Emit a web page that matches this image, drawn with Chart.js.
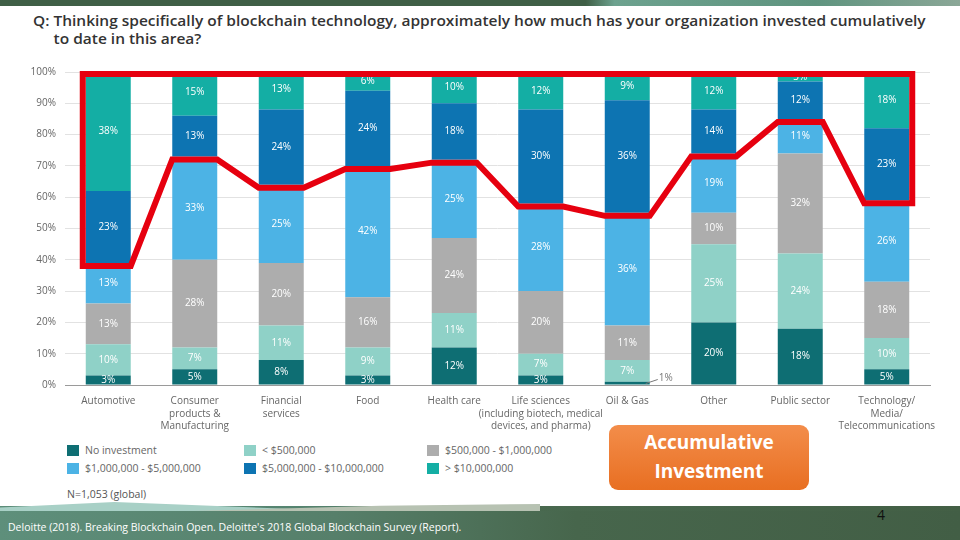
<!DOCTYPE html>
<html>
<head>
<meta charset="utf-8">
<script src="https://cdn.jsdelivr.net/npm/chart.js@4/dist/chart.umd.min.js"></script>
<style>
  html, body { margin: 0; padding: 0; }
  body { width: 960px; height: 540px; position: relative; overflow: hidden; background: #fff; font-family: 'Open Sans', sans-serif; }
  .header { position: absolute; left: 0; top: 0; width: 960px; height: 6px;
    background: linear-gradient(90deg, #3f5f46 0%, #3f5f46 61%, #6da28f 64%, #5f947f 85%, #8ba797 100%); }
  .title { position: absolute; left: 33px; top: 11px; font-size: 15px; font-weight: 600; color: #333; line-height: 18px;
    transform-origin: left top; white-space: nowrap; }
  .title .l2 { padding-left: 20px; }
  #wrap { position: absolute; left: 0; top: 57px; width: 960px; height: 380px; }
  .legend { position: absolute; left: 67px; top: 444px; font-size: 10.5px; color: #666; }
  .legend .item { position: absolute; white-space: nowrap; line-height: 12px; }
  .legend .sw { display: inline-block; width: 12px; height: 11px; vertical-align: -2px; margin-right: 6px; }
  .note { position: absolute; left: 67px; top: 487px; font-size: 10.5px; color: #555; }
  .badge { position: absolute; left: 609px; top: 425px; width: 200px; height: 65px; border-radius: 9px;
    background: linear-gradient(180deg, #f38d4a 0%, #e86f22 100%); color: #fff; font-weight: 700;
    font-size: 19px; line-height: 29px; text-align: center; padding-top: 3px; box-sizing: border-box; }
  .footer { position: absolute; left: 0; top: 506px; width: 960px; height: 34px;
    background: linear-gradient(90deg, #5c8d79 0%, #558470 30%, #49694f 55%, #435f45 100%); }
  .wave1 { position: absolute; left: 0; top: 502px; width: 520px; height: 14px; background: #a8d0c6;
    clip-path: polygon(0 40%, 22% 0, 60% 55%, 100% 75%, 100% 100%, 0 100%); }
  .wave2 { position: absolute; left: 140px; top: 504px; width: 400px; height: 12px; background: #b7c2b2;
    clip-path: polygon(0 70%, 60% 15%, 100% 0, 100% 100%, 0 100%); }
  .band { position: absolute; left: 0; top: 511px; width: 960px; height: 29px;
    background: linear-gradient(90deg, #5e8f7b 0%, #567f6a 35%, #47664c 60%, #425e45 100%); }
  .cite { position: absolute; left: 8px; top: 520px; font-size: 10.5px; color: #fff; white-space: nowrap; }
  .page { position: absolute; left: 877px; top: 505px; font-size: 14px; color: #111; }
</style>
</head>
<body>
<div class="header"></div>
<div class="title" id="title"><div>Q: Thinking specifically of blockchain technology, approximately how much has your organization invested cumulatively</div><div class="l2">to date in this area?</div></div>
<div id="wrap"><canvas id="chart" width="960" height="380"></canvas></div>
<div class="legend" id="legend"></div>
<div class="note">N=1,053 (global)</div>
<div class="badge">Accumulative<br>Investment</div>
<div class="footer"></div>
<div class="wave1"></div>
<div class="wave2"></div>
<div class="band"></div>
<div class="cite">Deloitte (2018). Breaking Blockchain Open. Deloitte's 2018 Global Blockchain Survey (Report).</div>
<div class="page">4</div>
<script>
// Categories (multi-line tick labels)
const categories = [
    ['Automotive'],
    ['Consumer', 'products &', 'Manufacturing'],
    ['Financial', 'services'],
    ['Food'],
    ['Health care'],
    ['Life sciences', '(including biotech, medical', 'devices, and pharma)'],
    ['Oil & Gas'],
    ['Other'],
    ['Public sector'],
    ['Technology/', 'Media/', 'Telecommunications']
];

// Series values (% of respondents), bottom to top
const noInvestment = [3, 5, 8, 3, 12, 3, 1, 20, 18, 5];
const under500k    = [10, 7, 11, 9, 11, 7, 7, 25, 24, 10];
const k500to1m     = [13, 28, 20, 16, 24, 20, 11, 10, 32, 18];
const m1to5        = [13, 33, 25, 42, 25, 28, 36, 19, 11, 26];
const m5to10       = [23, 13, 24, 24, 18, 30, 36, 14, 12, 23];
const over10m      = [38, 15, 13, 6, 10, 12, 9, 12, 3, 18];

const seriesNames = ['No investment', '< $500,000', '$500,000 - $1,000,000',
                     '$1,000,000 - $5,000,000', '$5,000,000 - $10,000,000', '> $10,000,000'];
const seriesData = [noInvestment, under500k, k500to1m, m1to5, m5to10, over10m];
const seriesColors = ['#0e6e73', '#8fd1c7', '#adadad', '#4cb3e5', '#0d74b2', '#14aea4'];

const yTicks = [0, 10, 20, 30, 40, 50, 60, 70, 80, 90, 100];

// fit the title to the width of the original
const title = document.getElementById('title');
const tw = title.firstElementChild.scrollWidth;
title.style.transform = `scaleX(${893 / tw})`;

// legend, 3 columns x 2 rows
const legend = document.getElementById('legend');
const colX = [0, 177, 360];
seriesNames.forEach((name, i) => {
    const d = document.createElement('div');
    d.className = 'item';
    d.style.left = colX[i % 3] + 'px';
    d.style.top = (Math.floor(i / 3) * 18) + 'px';
    d.innerHTML = `<span class="sw" style="background:${seriesColors[i]}"></span>`;
    d.appendChild(document.createTextNode(name));
    legend.appendChild(d);
});

// white % labels inside each segment
const segmentLabels = {
    id: 'segmentLabels',
    afterDatasetsDraw(chart) {
        const ctx = chart.ctx;
        ctx.save();
        ctx.font = "10px 'Open Sans', sans-serif";
        ctx.textAlign = 'center';
        ctx.textBaseline = 'middle';
        chart.data.datasets.forEach((ds, di) => {
            const meta = chart.getDatasetMeta(di);
            meta.data.forEach((bar, i) => {
                const v = ds.data[i];
                if (v < 2) {
                    // tiny segment: label outside with a short leader
                    const right = bar.x + bar.width / 2;
                    ctx.strokeStyle = '#777';
                    ctx.lineWidth = 1;
                    ctx.beginPath();
                    ctx.moveTo(right - 4, bar.base - 1);
                    ctx.lineTo(right + 8, bar.base - 5);
                    ctx.stroke();
                    ctx.fillStyle = '#777';
                    ctx.textAlign = 'left';
                    ctx.fillText(v + '%', right + 9, bar.base - 6);
                    ctx.textAlign = 'center';
                    return;
                }
                ctx.fillStyle = '#fff';
                ctx.fillText(v + '%', bar.x, (bar.y + bar.base) / 2);
            });
        });
        ctx.restore();
    }
};

// red outline around the two top bands (> $5,000,000)
const outline = {
    id: 'outline',
    afterDatasetsDraw(chart) {
        const ctx = chart.ctx;
        const y = chart.scales.y;
        const bars = chart.getDatasetMeta(0).data;
        const cum = categories.map((c, i) => noInvestment[i] + under500k[i] + k500to1m[i] + m1to5[i]);
        const n = bars.length;
        const lw = 6;
        const first = bars[0], last = bars[n - 1];
        ctx.save();
        ctx.strokeStyle = '#e6000f';
        ctx.lineWidth = lw;
        ctx.lineJoin = 'miter';
        ctx.beginPath();
        ctx.moveTo(first.x - first.width / 2 - 3, y.getPixelForValue(100) + 2);
        ctx.lineTo(last.x + last.width / 2 + 3, y.getPixelForValue(100) + 2);
        for (let i = n - 1; i >= 0; i--) {
            const b = bars[i];
            const py = y.getPixelForValue(cum[i]) + lw / 2;
            const r = i === n - 1 ? b.x + b.width / 2 + 3 : b.x + b.width / 2;
            const l = i === 0 ? b.x - b.width / 2 - 3 : b.x - b.width / 2;
            ctx.lineTo(r, py);
            ctx.lineTo(l, py);
        }
        ctx.closePath();
        ctx.stroke();
        ctx.restore();
    }
};

new Chart(document.getElementById('chart'), {
    type: 'bar',
    data: {
        labels: categories,
        datasets: seriesNames.map((name, i) => ({
            label: name,
            data: seriesData[i],
            backgroundColor: seriesColors[i],
            borderWidth: 0,
            barPercentage: 0.52,
            categoryPercentage: 1
        }))
    },
    options: {
        responsive: false,
        animation: false,
        layout: { padding: { left: 0, right: 30, top: 8, bottom: 0 } },
        plugins: {
            legend: { display: false },
            tooltip: { enabled: false }
        },
        scales: {
            x: {
                stacked: true,
                grid: { display: false },
                border: { display: true, color: '#9a9a9a', width: 1 },
                ticks: {
                    color: '#666',
                    font: { size: 10, family: "'Open Sans', sans-serif", lineHeight: 1.25 },
                    maxRotation: 0,
                    autoSkip: false,
                    padding: 2
                },
                afterFit(scale) { scale.height = 52; }
            },
            y: {
                stacked: true,
                min: 0,
                max: 100,
                afterBuildTicks(scale) { scale.ticks = yTicks.map(v => ({ value: v })); },
                grid: { color: '#e2e2e2', drawTicks: false },
                border: { display: false },
                ticks: {
                    color: '#666',
                    font: { size: 10, family: "'Open Sans', sans-serif" },
                    padding: 9,
                    callback: v => v + '%'
                },
                afterFit(scale) { scale.width = 65; }
            }
        }
    },
    plugins: [segmentLabels, outline]
});
</script>
</body>
</html>
